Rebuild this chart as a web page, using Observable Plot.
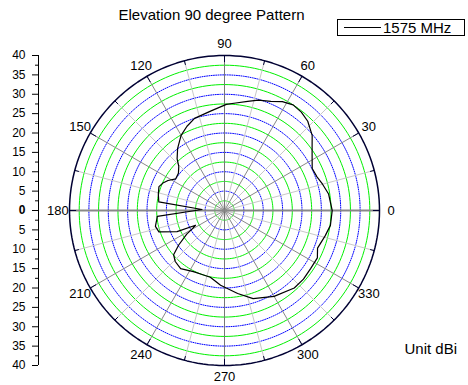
<!DOCTYPE html>
<html><head><meta charset="utf-8">
<script src="https://cdn.jsdelivr.net/npm/d3@7"></script>
<script src="https://cdn.jsdelivr.net/npm/@observablehq/plot@0.6"></script>
<style>
body{margin:0;background:#fff;font-family:"Liberation Sans",Arial,sans-serif;color:#000;}
#wrap{position:relative;width:468px;height:385px;overflow:hidden;}
#title{height:30px;width:423px;text-align:center;font-size:15px;line-height:30px;white-space:nowrap;}
#legend{position:absolute;left:337px;top:19px;width:126px;height:15px;border:1px solid #000;font-size:15px;line-height:15px;background:#fff;white-space:nowrap;}
#legend .sw{position:absolute;left:6px;top:7px;width:37px;border-top:1px solid #000;}
#legend .lb{position:absolute;left:45px;top:0px;}
#chart svg{display:block;}
</style></head>
<body>
<div id="wrap">
  <div id="title">Elevation 90 degree Pattern</div>
  <div id="legend"><span class="sw"></span><span class="lb">1575 MHz</span></div>
  <div id="chart"></div>
</div>
<script>
// Pattern: angle in degrees, gain (radial value)
const patternAngles = [0, 9, 15, 20, 25.6, 30.7, 35.3, 40.6, 47, 52, 57, 62, 67, 73, 78, 84, 89, 98, 108, 114, 120, 127, 132.5, 136, 141, 147, 152, 156, 160, 166, 172.5, 177.4, 185, 193, 198, 204, 207, 209.5, 212, 217, 221, 226, 233, 243, 250, 258, 267, 279, 288, 300, 312, 319, 326, 333, 338, 346, 352, 360];
const patternGains  = [27.8, 27.2, 26.2, 25.4, 25.1, 26.3, 27.7, 29.8, 31.5, 32.2, 32.5, 31.8, 30.6, 29.8, 28.8, 27.9, 27.4, 25.9, 25.0, 23.8, 22.4, 20.1, 18.1, 16.4, 15.3, 15.0, 16.5, 17.4, 18.0, 17.6, 17.1, 5.8, 17.4, 18.3, 17.8, 13.4, 8.4, 9.5, 11.5, 14.8, 17.4, 18.3, 18.8, 17.7, 17.5, 17.6, 19.3, 21.7, 23.9, 25.6, 26.9, 27.0, 26.8, 26.9, 25.9, 26.8, 27.6, 27.8];
const seriesName = "1575 MHz";
const angleTicks = [0, 30, 60, 90, 120, 150, 180, 210, 240, 270, 300, 330];
const radialMax = 40;
const majorRings = [5, 10, 15, 20, 25, 30, 35];
const minorRings = [2.5, 7.5, 12.5, 17.5, 22.5, 27.5, 32.5, 37.5];
const radialTicks = [-40, -35, -30, -25, -20, -15, -10, -5, 5, 10, 15, 20, 25, 30, 35, 40];
const radialMinorTicks = [-37.5, -32.5, -27.5, -22.5, -17.5, -12.5, -7.5, -2.5, 2.5, 7.5, 12.5, 17.5, 22.5, 27.5, 32.5, 37.5];

const rad = d => d * Math.PI / 180;
const circlePts = levels => levels.flatMap(r => d3.range(0, 361, 2).map(a => ({r, a})));
const pattern = patternAngles.map((a, i) => ({a, r: patternGains[i]}));
const spokes = d3.range(0, 360, 15).map(a => ({a, major: a % 30 === 0}));
const axisX = -48;
const labelR = 43;

const plot = Plot.plot({
  width: 468, height: 355,
  marginTop: 25, marginBottom: 20, marginLeft: 38, marginRight: 89,
  x: {domain: [axisX, radialMax], axis: null},
  y: {domain: [-radialMax, radialMax], axis: null},
  style: {fontFamily: "'Liberation Sans', Arial, sans-serif", fontSize: "11px", background: "white", color: "black", overflow: "visible"},
  marks: [
    Plot.line(circlePts(minorRings), {x: d => d.r * Math.cos(rad(d.a)), y: d => d.r * Math.sin(rad(d.a)), z: "r", stroke: "#00f000", strokeWidth: 1}),
    Plot.line(circlePts(majorRings), {x: d => d.r * Math.cos(rad(d.a)), y: d => d.r * Math.sin(rad(d.a)), z: "r", stroke: "#0000ff", strokeWidth: 1, strokeDasharray: "1,1.3"}),
    Plot.link(spokes.filter(d => !d.major), {x1: 0, y1: 0, x2: d => radialMax * Math.cos(rad(d.a)), y2: d => radialMax * Math.sin(rad(d.a)), stroke: "#c8c8c8", strokeWidth: 1}),
    Plot.link(spokes.filter(d => d.major && d.a % 90 !== 0), {x1: 0, y1: 0, x2: d => radialMax * Math.cos(rad(d.a)), y2: d => radialMax * Math.sin(rad(d.a)), stroke: "#888", strokeWidth: 1}),
    Plot.link([90, 270], {x1: 0, y1: 0, x2: a => radialMax * Math.cos(rad(a)), y2: a => radialMax * Math.sin(rad(a)), stroke: "#777", strokeWidth: 1}),
    Plot.link([0, 180], {x1: 0, y1: 0, x2: a => radialMax * Math.cos(rad(a)), y2: a => radialMax * Math.sin(rad(a)), stroke: "#888", strokeWidth: 2}),
    Plot.line(circlePts([radialMax]), {x: d => d.r * Math.cos(rad(d.a)), y: d => d.r * Math.sin(rad(d.a)), stroke: "#000033", strokeWidth: 1.5}),
    Plot.link(spokes, {x1: d => (d.major ? 38.3 : 38.9) * Math.cos(rad(d.a)), y1: d => (d.major ? 38.3 : 38.9) * Math.sin(rad(d.a)), x2: d => radialMax * Math.cos(rad(d.a)), y2: d => radialMax * Math.sin(rad(d.a)), stroke: "#000033", strokeWidth: 1}),
    Plot.line(pattern, {x: d => d.r * Math.cos(rad(d.a)), y: d => d.r * Math.sin(rad(d.a)), stroke: "#000", strokeWidth: 1.2, title: () => seriesName}),
    Plot.text(angleTicks, {x: a => labelR * Math.cos(rad(a)), y: a => labelR * Math.sin(rad(a)), text: a => String(a), fontSize: 13, fill: "#000"}),
    Plot.ruleX([axisX], {y1: -radialMax, y2: radialMax, stroke: "#000", strokeWidth: 1}),
    Plot.axisY(radialTicks, {anchor: "left", tickSize: 6, tickPadding: 7, tickFormat: d => Math.abs(d), fontSize: 12, label: null}),
    Plot.axisY([0], {anchor: "left", tickSize: 6, tickPadding: 7, tickFormat: d => "0", fontSize: 12, fontWeight: "bold", label: null}),
    Plot.axisY(radialMinorTicks, {anchor: "left", tickSize: 3, tickFormat: () => "", label: null}),
    Plot.text(["Unit dBi"], {frameAnchor: "bottom-right", dx: 25, dy: -12, textAnchor: "start", fontSize: 15, fill: "#000"})
  ]
});
document.getElementById("chart").appendChild(plot);
</script>
</body></html>
